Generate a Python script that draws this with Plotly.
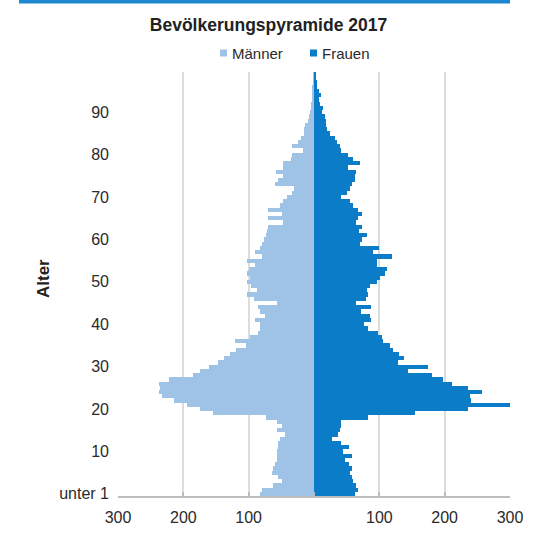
import plotly.graph_objects as go

# Ages 0 ("unter 1") .. 99
ages = list(range(100))

maenner = [83, 80, 62, 49, 55, 65, 62, 60, 57, 56,
           57, 55, 55, 52, 45, 57, 49, 57, 74, 154,
           174, 195, 215, 232, 238, 236, 238, 222, 185, 175,
           160, 147, 138, 128, 120, 104, 121, 98, 85, 82,
           82, 90, 75, 83, 85, 57, 92, 102, 87, 97,
           103, 98, 102, 99, 90, 103, 80, 90, 82, 80,
           77, 74, 72, 70, 47, 70, 49, 70, 52, 47,
           42, 34, 30, 60, 55, 47, 58, 48, 47, 35,
           34, 17, 34, 24, 20, 16, 15, 14, 9, 7,
           6, 5, 4, 3, 3, 2, 2, 1, 1, 1]

frauen = [63, 68, 65, 60, 58, 55, 58, 53, 47, 58,
          45, 53, 42, 27, 37, 40, 42, 42, 83, 155,
          236, 300, 240, 239, 257, 236, 211, 198, 180, 144,
          175, 129, 137, 130, 121, 116, 106, 104, 98, 82,
          76, 88, 86, 72, 88, 65, 80, 83, 81, 86,
          96, 101, 109, 111, 96, 96, 120, 91, 100, 70,
          73, 81, 69, 73, 65, 68, 73, 68, 60, 55,
          42, 50, 55, 58, 63, 62, 65, 52, 70, 60,
          52, 42, 40, 35, 32, 24, 20, 19, 18, 17,
          12, 14, 9, 8, 10, 7, 4, 4, 2, 3]

series_names = ["Männer", "Frauen"]
y_tickvals = [0, 10, 20, 30, 40, 50, 60, 70, 80, 90]
y_ticktext = ["unter 1", "10", "20", "30", "40", "50", "60", "70", "80", "90"]
x_tickvals = [-300, -200, -100, 0, 100, 200, 300]
x_ticktext = ["300", "200", "100", "", "100", "200", "300"]

C_M = "#9fc3e7"
C_F = "#0b7cc7"
FONT = "Liberation Sans, Arial, Helvetica, sans-serif"

W, H = 556, 542
L, R, T, B = 118, 46, 72, 46
PW, PH = W - L - R, H - T - B


def px(x):  # page pixel x -> paper x
    return (x - L) / PW


def py(y):  # page pixel y -> paper y
    return (H - B - y) / PH


fig = go.Figure()
fig.add_trace(go.Bar(
    y=ages, x=[-v for v in maenner], orientation="h", name=series_names[0],
    marker=dict(color=C_M, line=dict(width=0)), showlegend=False,
    customdata=maenner, hovertemplate="Alter %{y}: %{customdata}<extra>Männer</extra>"))
fig.add_trace(go.Bar(
    y=ages, x=frauen, orientation="h", name=series_names[1],
    marker=dict(color=C_F, line=dict(width=0)), showlegend=False,
    hovertemplate="Alter %{y}: %{x}<extra>Frauen</extra>"))

# legend drawn as small squares + text
legend_items = [(series_names[0], C_M, 220), (series_names[1], C_F, 310)]
shapes = [dict(type="rect", xref="paper", yref="paper",
               x0=px(19), x1=1.0, y0=py(3.5), y1=py(-0.5),
               fillcolor="#1a87cf", line=dict(width=0), layer="above")]
annotations = [dict(text="<b>Alter</b>", textangle=-90, xref="paper", yref="paper",
                    x=px(43), y=py(279), xanchor="center", yanchor="middle",
                    showarrow=False, font=dict(size=17, color="#222222", family=FONT))]
for name, col, sx in legend_items:
    shapes.append(dict(type="rect", xref="paper", yref="paper",
                       x0=px(sx), x1=px(sx + 7), y0=py(56.5), y1=py(49.5),
                       fillcolor=col, line=dict(width=0)))
    annotations.append(dict(text=name, xref="paper", yref="paper",
                            x=px(sx + 10), y=py(53), xanchor="left", yanchor="middle",
                            showarrow=False, font=dict(size=15, color="#2a2a2a", family=FONT)))

fig.update_layout(
    width=W, height=H,
    margin=dict(l=L, r=R, t=T, b=B),
    paper_bgcolor="white", plot_bgcolor="white",
    barmode="overlay", bargap=0, showlegend=False,
    font=dict(family=FONT, size=16, color="#2a2a2a"),
    title=dict(text="<b>Bevölkerungspyramide 2017</b>", xref="container",
               x=268.5 / W, xanchor="center", y=1 - 25 / H, yanchor="middle",
               font=dict(size=17.5, color="#222222", family=FONT)),
    xaxis=dict(range=[-300, 300], tickvals=x_tickvals, ticktext=x_ticktext,
               showgrid=True, gridcolor="#dcdcdc", gridwidth=1.5,
               zeroline=False, showline=True, linecolor="#bdbdbd", linewidth=1.5,
               ticks="inside", ticklen=4, tickcolor="#bdbdbd", tickwidth=1.5,
               ticklabelstandoff=6, tickfont=dict(size=16, color="#2a2a2a"),
               fixedrange=True),
    yaxis=dict(range=[-0.5, 99.5], tickvals=y_tickvals, ticktext=y_ticktext,
               showgrid=False, zeroline=False, showline=False, ticks="",
               ticklabelstandoff=8, tickfont=dict(size=16, color="#2a2a2a"),
               fixedrange=True),
    annotations=annotations,
    shapes=shapes,
)

fig.write_html("out.html", config={"displayModeBar": False},
               post_script="document.body.style.margin='0';document.body.style.overflow='hidden';")
